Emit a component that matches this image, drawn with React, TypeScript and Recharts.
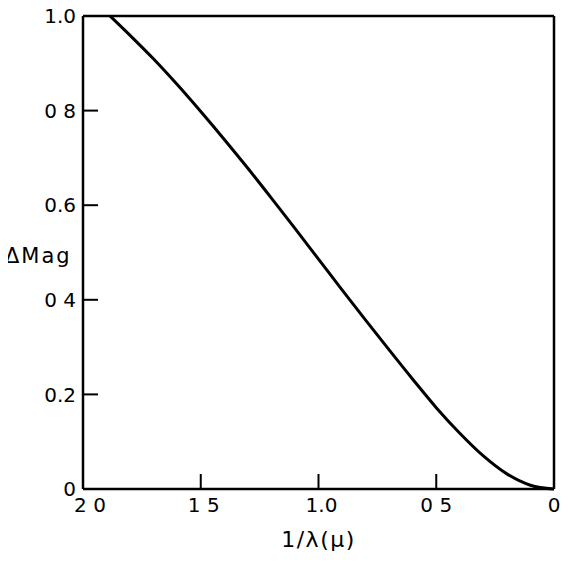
import React from 'react';
import { LineChart, Line, XAxis, YAxis } from 'recharts';

const invWavelength = [1.885, 1.8, 1.7, 1.6, 1.5, 1.4, 1.3, 1.2, 1.1, 1.0, 0.9, 0.8, 0.7, 0.6, 0.5, 0.4, 0.3, 0.2, 0.1, 0];
const deltaMag = [1.0, 0.959, 0.909, 0.855, 0.798, 0.739, 0.678, 0.615, 0.551, 0.486, 0.421, 0.357, 0.294, 0.232, 0.172, 0.118, 0.07, 0.032, 0.008, 0];

const xTicks = [0, 0.5, 1.0, 1.5, 2.0];
const xTickLabels = ['0', '0 5', '1.0', '1 5', '2 0'];
const yTicks = [0, 0.2, 0.4, 0.6, 0.8, 1.0];
const yTickLabels = ['0', '0.2', '0 4', '0.6', '0 8', '1.0'];

const xTitle = '1/λ(μ)';
const yTitle = 'ΔMag';

const data = invWavelength.map((x, i) => ({ x, y: deltaMag[i] }));

const FONT = 'DejaVu Sans, sans-serif';
const tickStyle = { fill: '#000', fontSize: 20, fontFamily: FONT };
const axisLine = { stroke: '#000', strokeWidth: 2.5 };
const tickLine = { stroke: '#000', strokeWidth: 2 };

const XTick = (props: any) => {
  const { x, y, payload } = props;
  const i = xTicks.indexOf(payload.value);
  const label = i >= 0 ? xTickLabels[i] : String(payload.value);
  const shift = payload.value === 2 ? 7 : payload.value >= 1 ? 3 : 0;
  return (
    <text x={x + shift} y={y} dy="0.71em" textAnchor="middle" fill="#000" fontSize={20} fontFamily={FONT}>
      {label}
    </text>
  );
};

export default function App() {
  return (
    <div style={{ margin: -8, width: 570, height: 565, background: '#fff' }}>
      <LineChart width={570} height={565} data={data} margin={{ top: 15, right: 15, bottom: 46, left: 0 }}>
        <XAxis
          xAxisId="bottom"
          dataKey="x"
          type="number"
          domain={[0, 2]}
          reversed
          ticks={xTicks}
          interval={0}
          height={30}
          tickSize={-15}
          tickMargin={24}
          axisLine={axisLine}
          tickLine={tickLine}
          tick={<XTick />}
          label={{ value: xTitle, position: 'bottom', offset: 12, fill: '#000', fontSize: 22, fontFamily: FONT, letterSpacing: 1.5 }}
        />
        <XAxis
          xAxisId="top"
          orientation="top"
          type="number"
          domain={[0, 2]}
          reversed
          ticks={xTicks}
          interval={0}
          height={1}
          tickSize={-15}
          axisLine={axisLine}
          tickLine={tickLine}
          tick={false}
        />
        <YAxis
          yAxisId="left"
          type="number"
          domain={[0, 1]}
          ticks={yTicks}
          tickFormatter={(v: number) => yTickLabels[yTicks.indexOf(v)] ?? String(v)}
          interval={0}
          width={83}
          tickSize={-15}
          tickMargin={22}
          axisLine={axisLine}
          tickLine={tickLine}
          tick={tickStyle}
          label={{ value: yTitle, position: 'insideLeft', offset: 5, dy: 3, fill: '#000', fontSize: 21, fontFamily: FONT, letterSpacing: 2 }}
        />
        <YAxis
          yAxisId="right"
          orientation="right"
          type="number"
          domain={[0, 1]}
          ticks={yTicks}
          interval={0}
          width={1}
          tickSize={-15}
          axisLine={axisLine}
          tickLine={tickLine}
          tick={false}
        />
        <Line
          xAxisId="bottom"
          yAxisId="left"
          dataKey="y"
          type="monotone"
          stroke="#000"
          strokeWidth={3}
          dot={false}
          activeDot={false}
          isAnimationActive={false}
        />
      </LineChart>
    </div>
  );
}
